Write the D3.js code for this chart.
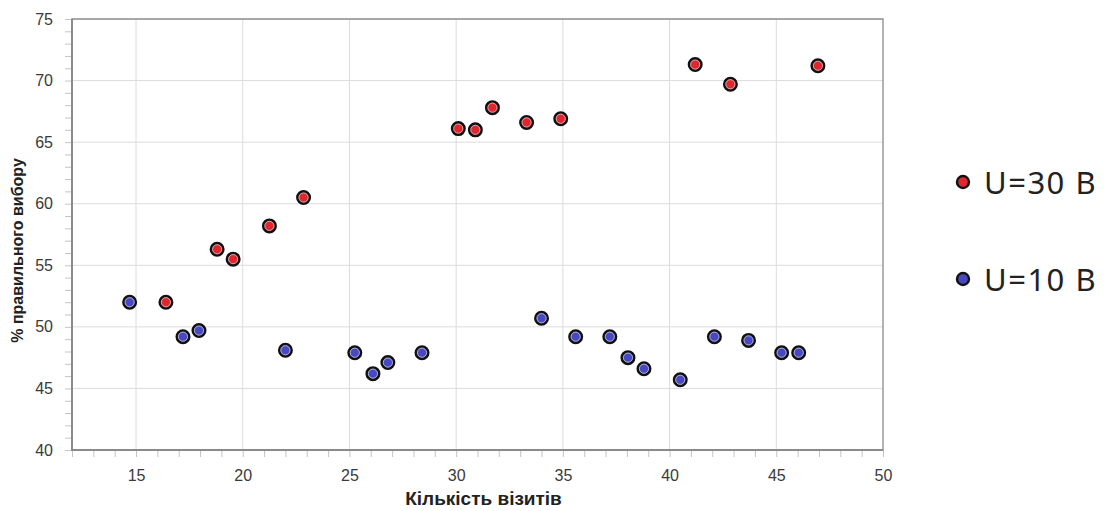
<!DOCTYPE html>
<html>
<head>
<meta charset="utf-8">
<script src="https://cdn.jsdelivr.net/npm/d3@7"></script>
<style>
  body { margin: 0; background: #fff; }
  svg { display: block; }
</style>
</head>
<body>
<svg id="chart" width="1104" height="511"></svg>
<script>
// visits and % correct choice, U=30 V
const visits30 = [16.4, 18.8, 19.55, 21.25, 22.85, 30.1, 30.9, 31.7, 33.3, 34.9, 41.2, 42.85, 46.95];
const correct30 = [52.0, 56.3, 55.5, 58.2, 60.5, 66.1, 66.0, 67.8, 66.6, 66.9, 71.3, 69.7, 71.2];

// U=10 V
const visits10 = [14.7, 17.2, 17.95, 22.0, 25.25, 26.1, 26.8, 28.4, 34.0, 35.6, 37.2, 38.05, 38.8, 40.5, 42.1, 43.7, 45.25, 46.05];
const correct10 = [52.0, 49.2, 49.7, 48.1, 47.9, 46.2, 47.1, 47.9, 50.7, 49.2, 49.2, 47.5, 46.6, 45.7, 49.2, 48.9, 47.9, 47.9];

const xTicks = [15, 20, 25, 30, 35, 40, 45, 50];
const yTicks = [40, 45, 50, 55, 60, 65, 70, 75];
const seriesNames = ["U=30 В", "U=10 В"];
const seriesColors = ["#e2262e", "#4849c2"];

const svg = d3.select("#chart");
const margin = { top: 19, right: 221, bottom: 61, left: 72 },
    width = +svg.attr("width") - margin.left - margin.right,
    height = +svg.attr("height") - margin.top - margin.bottom;

const g = svg.append("g").attr("transform", "translate(" + margin.left + "," + margin.top + ")");

const x = d3.scaleLinear().domain([12, 50]).range([0, width]);
const y = d3.scaleLinear().domain([40, 75]).range([height, 0]);

// grid
g.append("g").selectAll("line")
    .data(xTicks.filter(t => t < 50))
    .join("line")
    .attr("x1", d => x(d)).attr("x2", d => x(d))
    .attr("y1", 0).attr("y2", height)
    .attr("stroke", "#dcdcdc").attr("stroke-width", 1);

g.append("g").selectAll("line")
    .data(yTicks.filter(t => t > 40 && t < 75))
    .join("line")
    .attr("x1", 0).attr("x2", width)
    .attr("y1", d => y(d)).attr("y2", d => y(d))
    .attr("stroke", "#dcdcdc").attr("stroke-width", 1);

// minor ticks, one per unit
const xMinor = d3.range(12, 51, 1);
const yMinor = d3.range(40, 76, 1);

g.append("g")
    .attr("transform", "translate(0," + height + ")")
    .call(d3.axisBottom(x).tickValues(xMinor).tickSize(7).tickFormat(""))
    .call(a => a.select(".domain").remove())
    .call(a => a.selectAll("line").attr("stroke", "#c4c4c4"));

g.append("g")
    .call(d3.axisLeft(y).tickValues(yMinor).tickSize(7).tickFormat(""))
    .call(a => a.select(".domain").remove())
    .call(a => a.selectAll("line").attr("stroke", "#c4c4c4"));

// tick labels
const xAxis = g.append("g")
    .attr("transform", "translate(0," + height + ")")
    .call(d3.axisBottom(x).tickValues(xTicks).tickSize(0).tickPadding(20));
xAxis.select(".domain").remove();
xAxis.selectAll("text")
    .attr("font-family", "Liberation Sans, Arial, sans-serif")
    .attr("font-size", 16).attr("fill", "#3a3a3a");

const yAxis = g.append("g")
    .call(d3.axisLeft(y).tickValues(yTicks).tickSize(0).tickPadding(19));
yAxis.select(".domain").remove();
yAxis.selectAll("text")
    .attr("font-family", "Liberation Sans, Arial, sans-serif")
    .attr("font-size", 16).attr("fill", "#3a3a3a");

// frame
g.append("path")
    .attr("d", "M0," + height + "H" + width + "V0H0V" + height)
    .attr("fill", "none").attr("stroke", "#8a8a8a").attr("stroke-width", 1.3);
g.append("path")
    .attr("d", "M0,0V" + height + "H" + width)
    .attr("fill", "none").attr("stroke", "#8a8a8a").attr("stroke-width", 2);

// axis titles
g.append("text")
    .attr("x", width / 2 + 6).attr("y", height + 55)
    .attr("text-anchor", "middle")
    .attr("font-family", "Liberation Sans, Arial, sans-serif")
    .attr("font-size", 19).attr("font-weight", "bold").attr("fill", "#222")
    .text("Кількість візитів");

g.append("text")
    .attr("transform", "translate(-49," + (height / 2 + 16) + ") rotate(-90)")
    .attr("text-anchor", "middle")
    .attr("font-family", "Liberation Sans, Arial, sans-serif")
    .attr("font-size", 16).attr("font-weight", "bold").attr("fill", "#222")
    .text("% правильного вибору");

// points
const series = [
    visits30.map((v, i) => ({ x: v, y: correct30[i] })),
    visits10.map((v, i) => ({ x: v, y: correct10[i] }))
];

series.forEach((pts, si) => {
    const dots = g.append("g").selectAll("g")
        .data(pts)
        .join("g")
        .attr("transform", d => "translate(" + x(d.x) + "," + y(d.y) + ")");
    dots.append("circle")
        .attr("r", 6.2)
        .attr("fill", seriesColors[si])
        .attr("stroke", "#111").attr("stroke-width", 2.6);
    dots.append("circle")
        .attr("r", 4.6)
        .attr("fill", "none")
        .attr("stroke", "#d8d8e0").attr("stroke-width", 0.9).attr("stroke-opacity", 0.8);
});

// legend
const legend = svg.append("g");
const legendItems = legend.selectAll("g")
    .data(seriesNames)
    .join("g")
    .attr("transform", (d, i) => "translate(963," + (182 + i * 97) + ")");
legendItems.append("circle")
    .attr("r", 6)
    .attr("fill", (d, i) => seriesColors[i])
    .attr("stroke", "#111").attr("stroke-width", 2.4);
legendItems.append("text")
    .attr("x", 21).attr("y", 1).attr("dy", "0.36em")
    .attr("font-family", "Noto Sans, Open Sans, sans-serif")
    .attr("font-size", 31).attr("letter-spacing", 1.5).attr("fill", "#222")
    .text(d => d);
</script>
</body>
</html>
